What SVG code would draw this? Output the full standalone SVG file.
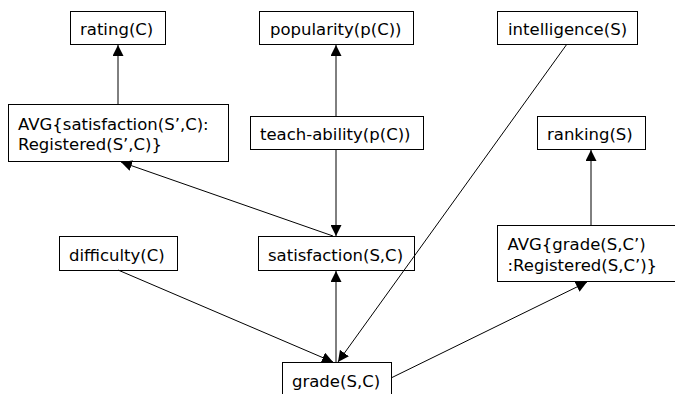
<svg xmlns="http://www.w3.org/2000/svg" width="675" height="394" viewBox="0 0 675 394">
<style>
.box{fill:#fff;stroke:#000;stroke-width:1}
.t{font-family:"DejaVu Sans","Verdana",sans-serif;font-size:16.5px;fill:#000}
.c{fill:none;stroke:#000;stroke-width:1}
</style>
<defs>
<marker id="ah" markerUnits="userSpaceOnUse" markerWidth="12" markerHeight="11" refX="11" refY="5.5" orient="auto">
<path d="M0,0 L11,5.5 L0,11 z" fill="#000"/>
</marker>
</defs>
<rect width="675" height="394" fill="#fff"/>
<g id="rating">
<rect class="box" x="70.5" y="11.5" width="95" height="33"/>
<text class="t" x="80" y="35">rating(C)</text>
</g>
<g id="popularity">
<rect class="box" x="259.5" y="11.5" width="154" height="33"/>
<text class="t" x="270" y="35">popularity(p(C))</text>
</g>
<g id="intelligence">
<rect class="box" x="497.5" y="11.5" width="140" height="33"/>
<text class="t" x="508" y="35">intelligence(S)</text>
</g>
<g id="avg-satisfaction">
<rect class="box" x="8.5" y="104.5" width="220" height="57"/>
<text class="t" x="18" y="129.5">AVG{satisfaction(S’,C):</text>
<text class="t" x="18" y="150">Registered(S’,C)}</text>
</g>
<g id="teach-ability">
<rect class="box" x="250.5" y="116.5" width="173" height="33"/>
<text class="t" x="260" y="140">teach-ability(p(C))</text>
</g>
<g id="ranking">
<rect class="box" x="537.5" y="116.5" width="108" height="33"/>
<text class="t" x="547" y="140">ranking(S)</text>
</g>
<g id="difficulty">
<rect class="box" x="59.5" y="236.5" width="118" height="34"/>
<text class="t" x="69" y="260.5">difficulty(C)</text>
</g>
<g id="satisfaction">
<rect class="box" x="258.5" y="236.5" width="156" height="34"/>
<text class="t" x="268" y="260.5">satisfaction(S,C)</text>
</g>
<g id="avg-grade">
<rect class="box" x="497.5" y="225.5" width="190" height="56"/>
<text class="t" x="507.5" y="249.5">AVG{grade(S,C’)</text>
<text class="t" x="507.5" y="270.5">:Registered(S,C’)}</text>
</g>
<g id="grade">
<rect class="box" x="282.5" y="362.5" width="109" height="40"/>
<text class="t" x="292" y="387">grade(S,C)</text>
</g>
<g id="connectors">
<line class="c" x1="118" y1="104" x2="118" y2="45" marker-end="url(#ah)"/>
<line class="c" x1="336" y1="116" x2="336" y2="45" marker-end="url(#ah)"/>
<line class="c" x1="336" y1="149" x2="336" y2="236" marker-end="url(#ah)"/>
<line class="c" x1="333" y1="236" x2="121" y2="162" marker-end="url(#ah)"/>
<line class="c" x1="336" y1="362" x2="336" y2="271" marker-end="url(#ah)"/>
<line class="c" x1="118" y1="270" x2="333" y2="362" marker-end="url(#ah)"/>
<line class="c" x1="567" y1="44" x2="338" y2="362" marker-end="url(#ah)"/>
<line class="c" x1="391" y1="378" x2="587" y2="282" marker-end="url(#ah)"/>
<line class="c" x1="591" y1="225" x2="591" y2="150" marker-end="url(#ah)"/>
</g>
</svg>
